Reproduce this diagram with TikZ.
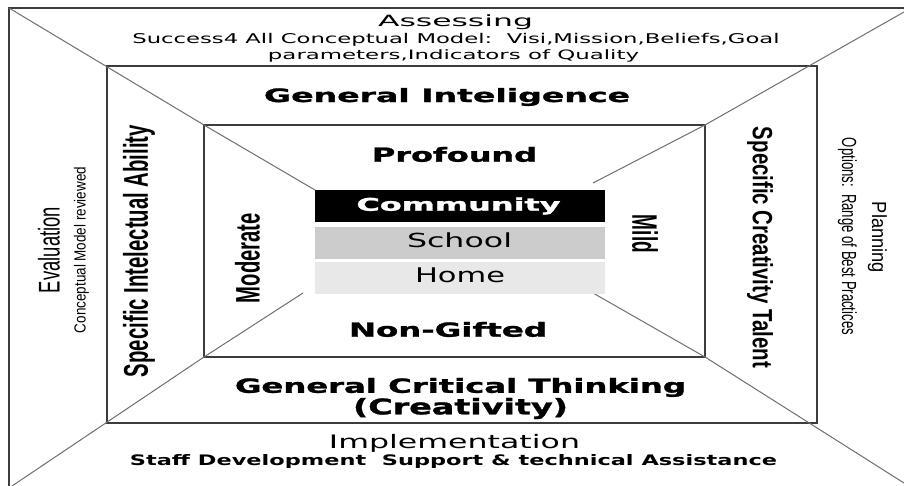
\documentclass[tikz,border=0pt]{standalone}
\usepackage{fontspec}
\usepackage{graphicx}
\setmainfont{DejaVu Sans}
\newfontfamily\narrowfont{Liberation Sans}
\newfontfamily\heavyfont[FakeBold=1.2]{DejaVu Sans Bold}
\newcommand{\fitt}[3]{\resizebox*{#1pt}{#2pt}{#3}}
\definecolor{framec}{HTML}{3C3C3C}
\definecolor{diagc}{HTML}{6E6E6E}
\definecolor{schoolc}{HTML}{CCCCCC}
\definecolor{homec}{HTML}{E8E8E8}
\tikzset{
  frame/.style={draw=framec, line width=1.4pt},
  diag/.style={draw=diagc, line width=1pt},
  txt/.style={inner sep=0pt, outer sep=0pt, anchor=center},
  band/.style={inner sep=0pt, outer sep=0pt, minimum width=290pt, minimum height=32pt},
}
\begin{document}
\begin{tikzpicture}[x=1pt, y=-1pt]
\useasboundingbox (0,0) rectangle (904,486);
% corners
\coordinate (oTL) at (9,8);
\coordinate (oTR) at (904,8);
\coordinate (oBL) at (9,486);
\coordinate (dTR) at (904,12);
\coordinate (dBL) at (12,486);
\coordinate (dBR) at (904,483);
\coordinate (eTL) at (315,190);
\coordinate (eTR) at (593,183);
\coordinate (eBL) at (303,293);
\coordinate (eBR) at (593,293);
% frames
\draw[frame] (oBL) -- (oTL) -- (oTR);
\draw[frame] (107,66) rectangle (817,423);
\draw[frame] (204,125) rectangle (705,357);
\coordinate (iTL) at (204,125);
\coordinate (iTR) at (705,125);
\coordinate (iBL) at (204,357);
\coordinate (iBR) at (705,357);
% diagonals
\draw[diag] (oTL) -- (iTL) -- (eTL);
\draw[diag] (dTR) -- (iTR) -- (eTR);
\draw[diag] (dBL) -- (iBL) -- (eBL);
\draw[diag] (dBR) -- (iBR) -- (eBR);
% center bands
\node[band, fill=black] (community) at (460,206) {};
\node[band, fill=schoolc] (school) at (460,243) {};
\node[band, fill=homec] (home) at (460,278) {};
\node[txt, text=white] (communityt) at (458.5,206) {\fitt{204}{17}{\heavyfont Community}};
\node[txt] (schoolt) at (459.5,240.5) {\fitt{105}{15}{School}};
\node[txt] (homet) at (460,275.5) {\fitt{90}{15}{Home}};
% top
\node[txt] (assess) at (455.5,22.5) {\fitt{155}{15}{Assessing}};
\node[txt] (assess2) at (456,39.5) {\fitt{647}{13}{Success4 All Conceptual Model:\ \ Visi,Mission,Beliefs,Goal}};
\node[txt] (assess3) at (453.5,56) {\fitt{371}{12.5}{parameters,Indicators of Quality}};
\node[txt] (genint) at (447,97) {\fitt{366}{18}{\heavyfont General Inteligence}};
\node[txt] (profound) at (454.5,154.5) {\fitt{165}{15}{\heavyfont Profound}};
\node[txt] (nongifted) at (448,329.5) {\fitt{198}{15}{\heavyfont Non-Gifted}};
\node[txt] (gct) at (460.5,387.5) {\fitt{451}{19}{\heavyfont General Critical Thinking}};
\node[txt] (gct2) at (460.5,408.5) {\fitt{215}{21}{\heavyfont (Creativity)}};
\node[txt] (impl) at (454.5,443) {\fitt{251}{18}{Implementation}};
\node[txt] (impl2) at (453.5,462) {\fitt{647}{14}{\bfseries Staff Development\ \ Support \& technical\ Assistance}};
% left
\node[txt, rotate=90] (evalt) at (49,250) {\fitt{86}{22}{\narrowfont Evaluation}};
\node[txt, rotate=90] (evalt2) at (81.5,250) {\fitt{166}{15}{\narrowfont Conceptual Model reviewed}};
\node[txt, rotate=90] (sia) at (139,251) {\fitt{252}{32}{\narrowfont\bfseries Specific Intelectual Ability}};
\node[txt, rotate=90] (moderate) at (247.5,258) {\fitt{90}{25}{\narrowfont\bfseries Moderate}};
% right
\node[txt, rotate=-90] (mild) at (645,234) {\fitt{38}{26}{\narrowfont\bfseries Mild}};
\node[txt, rotate=-90] (sct) at (760,247.5) {\fitt{241}{26}{\narrowfont\bfseries Specific Creativity Talent}};
\node[txt, rotate=-90] (options) at (847.5,236.5) {\fitt{197}{19}{\narrowfont Options:\ \ Range of Best Practices}};
\node[txt, rotate=-90] (planning) at (877.5,237.5) {\fitt{71}{19}{\narrowfont Planning}};
\end{tikzpicture}
\end{document}
